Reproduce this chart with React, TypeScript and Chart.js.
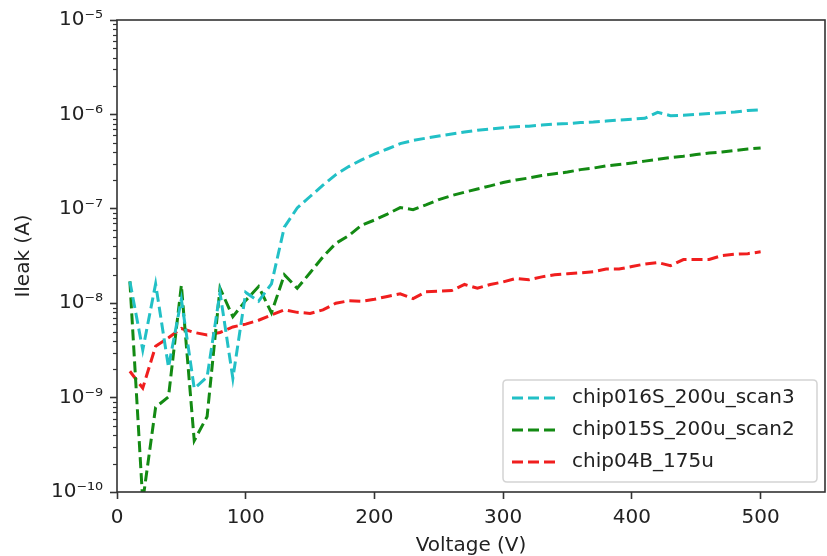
import React, { useEffect, useRef } from "react";
import { Chart, registerables } from "chart.js";

Chart.register(...registerables);

const VOLTAGE = [
  10, 20, 30, 40, 50, 60, 70, 80, 90, 100,
  110, 120, 130, 140, 150, 160, 170, 180, 190, 200,
  210, 220, 230, 240, 250, 260, 270, 280, 290, 300,
  310, 320, 330, 340, 350, 360, 370, 380, 390, 400,
  410, 420, 430, 440, 450, 460, 470, 480, 490, 500,
];

const CHIP016S = [
  1.7e-8, 3.2e-9, 1.6e-8, 2.1e-9, 1.1e-8, 1.25e-9, 1.65e-9, 1.3e-8, 1.6e-9, 1.3e-8,
  1.05e-8, 1.6e-8, 6.4e-8, 1.02e-7, 1.35e-7, 1.78e-7, 2.3e-7, 2.8e-7, 3.3e-7, 3.8e-7,
  4.3e-7, 4.9e-7, 5.3e-7, 5.6e-7, 5.9e-7, 6.2e-7, 6.5e-7, 6.8e-7, 7.0e-7, 7.2e-7,
  7.4e-7, 7.5e-7, 7.7e-7, 7.9e-7, 8.0e-7, 8.2e-7, 8.3e-7, 8.5e-7, 8.7e-7, 8.9e-7,
  9.1e-7, 1.05e-6, 9.7e-7, 9.8e-7, 1.0e-6, 1.02e-6, 1.04e-6, 1.06e-6, 1.1e-6, 1.12e-6,
];

const CHIP015S = [
  1.7e-8, 8e-11, 7.9e-10, 1.02e-9, 1.55e-8, 3.5e-10, 6.3e-10, 1.44e-8, 7.2e-9, 1.07e-8,
  1.5e-8, 7.9e-9, 2.0e-8, 1.44e-8, 2.1e-8, 3.1e-8, 4.3e-8, 5.2e-8, 6.7e-8, 7.6e-8,
  8.8e-8, 1.03e-7, 9.8e-8, 1.1e-7, 1.25e-7, 1.38e-7, 1.5e-7, 1.62e-7, 1.75e-7, 1.9e-7,
  2.02e-7, 2.12e-7, 2.25e-7, 2.35e-7, 2.45e-7, 2.6e-7, 2.7e-7, 2.85e-7, 2.95e-7, 3.05e-7,
  3.2e-7, 3.35e-7, 3.5e-7, 3.6e-7, 3.75e-7, 3.9e-7, 4.0e-7, 4.15e-7, 4.3e-7, 4.4e-7,
];

const CHIP04B = [
  1.9e-9, 1.26e-9, 3.5e-9, 4.3e-9, 5.4e-9, 4.9e-9, 4.6e-9, 4.9e-9, 5.6e-9, 6.0e-9,
  6.6e-9, 7.5e-9, 8.5e-9, 8.0e-9, 7.8e-9, 8.5e-9, 1.0e-8, 1.06e-8, 1.05e-8, 1.1e-8,
  1.18e-8, 1.26e-8, 1.12e-8, 1.32e-8, 1.34e-8, 1.36e-8, 1.58e-8, 1.44e-8, 1.58e-8, 1.68e-8,
  1.83e-8, 1.77e-8, 1.9e-8, 2.0e-8, 2.05e-8, 2.1e-8, 2.15e-8, 2.3e-8, 2.3e-8, 2.45e-8,
  2.6e-8, 2.7e-8, 2.5e-8, 2.9e-8, 2.9e-8, 2.9e-8, 3.2e-8, 3.3e-8, 3.35e-8, 3.5e-8,
];

const SERIES_LABELS = ["chip016S_200u_scan3", "chip015S_200u_scan2", "chip04B_175u"];
const SERIES_COLORS = ["#22c0c6", "#138a13", "#f01e1e"];

const X_TICKS = [0, 100, 200, 300, 400, 500];
const Y_DECADES = [-10, -9, -8, -7, -6, -5];
const MINOR_MULT = [2, 3, 4, 5, 6, 7, 8, 9];

const FONT_FAMILY = "'DejaVu Sans', sans-serif";
const TEXT_COLOR = "#222222";
const AXIS_COLOR = "#333333";
const DASH = [11, 5];

const SUP: Record<string, string> = {
  "-": "\u207B", "0": "\u2070", "1": "\u00B9", "2": "\u00B2", "3": "\u00B3",
  "4": "\u2074", "5": "\u2075", "6": "\u2076", "7": "\u2077", "8": "\u2078", "9": "\u2079",
};
const sup = (n: number) => String(n).split("").map((c) => SUP[c] || c).join("");

const isDecade = (v: number) => {
  const e = Math.log10(v);
  return Math.abs(e - Math.round(e)) < 1e-6;
};

const frameAndLegend = {
  id: "frameAndLegend",
  afterDatasetsDraw(chart: any) {
    const { ctx, chartArea } = chart;
    const { left, right, top, bottom } = chartArea;
    const yScale = chart.scales.y;
    ctx.save();
    // minor y ticks
    ctx.strokeStyle = AXIS_COLOR;
    ctx.lineWidth = 1.2;
    for (const t of yScale.ticks) {
      if (t.major) continue;
      const py = Math.round(yScale.getPixelForValue(t.value)) + 0.5;
      ctx.beginPath();
      ctx.moveTo(left, py);
      ctx.lineTo(left - 4, py);
      ctx.stroke();
    }
    // spines
    ctx.lineWidth = 1.6;
    ctx.strokeRect(left, top, right - left, bottom - top);

    // legend
    const bw = 314;
    const bh = 102;
    const bx = right - 8 - bw;
    const by = bottom - 10 - bh;
    const r = 4;
    ctx.beginPath();
    ctx.moveTo(bx + r, by);
    ctx.lineTo(bx + bw - r, by);
    ctx.quadraticCurveTo(bx + bw, by, bx + bw, by + r);
    ctx.lineTo(bx + bw, by + bh - r);
    ctx.quadraticCurveTo(bx + bw, by + bh, bx + bw - r, by + bh);
    ctx.lineTo(bx + r, by + bh);
    ctx.quadraticCurveTo(bx, by + bh, bx, by + bh - r);
    ctx.lineTo(bx, by + r);
    ctx.quadraticCurveTo(bx, by, bx + r, by);
    ctx.closePath();
    ctx.fillStyle = "rgba(255,255,255,0.85)";
    ctx.fill();
    ctx.strokeStyle = "#d4d4d4";
    ctx.lineWidth = 1.5;
    ctx.stroke();

    ctx.font = `20px ${FONT_FAMILY}`;
    ctx.textBaseline = "middle";
    ctx.textAlign = "left";
    SERIES_LABELS.forEach((label, i) => {
      const cy = by + 18 + i * 32;
      ctx.strokeStyle = SERIES_COLORS[i];
      ctx.lineWidth = 3;
      ctx.setLineDash(DASH);
      ctx.beginPath();
      ctx.moveTo(bx + 9, cy);
      ctx.lineTo(bx + 52, cy);
      ctx.stroke();
      ctx.setLineDash([]);
      ctx.fillStyle = TEXT_COLOR;
      ctx.fillText(label, bx + 69, cy);
    });
    ctx.restore();
  },
};

export default function App() {
  const canvasRef = useRef<HTMLCanvasElement | null>(null);

  useEffect(() => {
    if (!canvasRef.current) return;
    const seriesValues = [CHIP016S, CHIP015S, CHIP04B];
    const chart = new Chart(canvasRef.current, {
      type: "line",
      data: {
        datasets: seriesValues.map((vals, i) => ({
          label: SERIES_LABELS[i],
          data: VOLTAGE.map((v, j) => ({ x: v, y: vals[j] })),
          borderColor: SERIES_COLORS[i],
          backgroundColor: SERIES_COLORS[i],
          borderWidth: 3,
          borderDash: DASH,
          pointRadius: 0,
          tension: 0,
          fill: false,
        })),
      },
      options: {
        animation: false,
        responsive: false,
        devicePixelRatio: 1,
        layout: { padding: { top: 20, right: 2, left: 0, bottom: 0 } },
        plugins: {
          legend: { display: false },
          tooltip: { enabled: false },
        },
        scales: {
          x: {
            type: "linear",
            min: 0,
            max: 550,
            afterBuildTicks: (scale: any) => {
              scale.ticks = X_TICKS.map((v) => ({ value: v }));
            },
            afterFit: (scale: any) => {
              scale.height = 64;
            },
            border: { display: false },
            grid: {
              drawOnChartArea: false,
              drawTicks: true,
              tickLength: 7,
              tickWidth: 1.6,
              tickColor: AXIS_COLOR,
            },
            ticks: {
              autoSkip: false,
              maxRotation: 0,
              padding: 7,
              color: TEXT_COLOR,
              font: { family: FONT_FAMILY, size: 20 },
              callback: (v: any) => String(v),
            },
            title: {
              display: true,
              text: "Voltage (V)",
              color: TEXT_COLOR,
              font: { family: FONT_FAMILY, size: 20, lineHeight: 1.0 },
              padding: { top: 0, bottom: 0 },
            },
          },
          y: {
            type: "logarithmic",
            min: 1e-10,
            max: 1e-5,
            afterBuildTicks: (scale: any) => {
              const ticks: any[] = [];
              Y_DECADES.forEach((e, k) => {
                ticks.push({ value: Math.pow(10, e), major: true });
                if (k < Y_DECADES.length - 1) {
                  MINOR_MULT.forEach((m) => {
                    ticks.push({ value: m * Math.pow(10, e), major: false });
                  });
                }
              });
              scale.ticks = ticks;
            },
            afterFit: (scale: any) => {
              scale.width = 117;
            },
            border: { display: false },
            grid: {
              drawOnChartArea: false,
              drawTicks: true,
              tickLength: 7,
              tickWidth: 1.6,
              tickColor: (ctx: any) =>
                ctx.tick && ctx.tick.major ? AXIS_COLOR : "rgba(0,0,0,0)",
            },
            ticks: {
              autoSkip: false,
              padding: 7,
              color: TEXT_COLOR,
              font: { family: FONT_FAMILY, size: 20 },
              callback: (v: any) => {
                const n = Number(v);
                return isDecade(n) ? "10" + sup(Math.round(Math.log10(n))) : "";
              },
            },
            title: {
              display: true,
              text: "Ileak (A)",
              color: TEXT_COLOR,
              font: { family: FONT_FAMILY, size: 20 },
              padding: { top: 12, bottom: 0 },
            },
          },
        },
      },
      plugins: [frameAndLegend],
    } as any);
    return () => chart.destroy();
  }, []);

  return (
    <div style={{ position: "absolute", left: 0, top: 0, width: 827, height: 556, background: "#fff" }}>
      <canvas ref={canvasRef} width={827} height={556} style={{ display: "block" }} />
    </div>
  );
}
